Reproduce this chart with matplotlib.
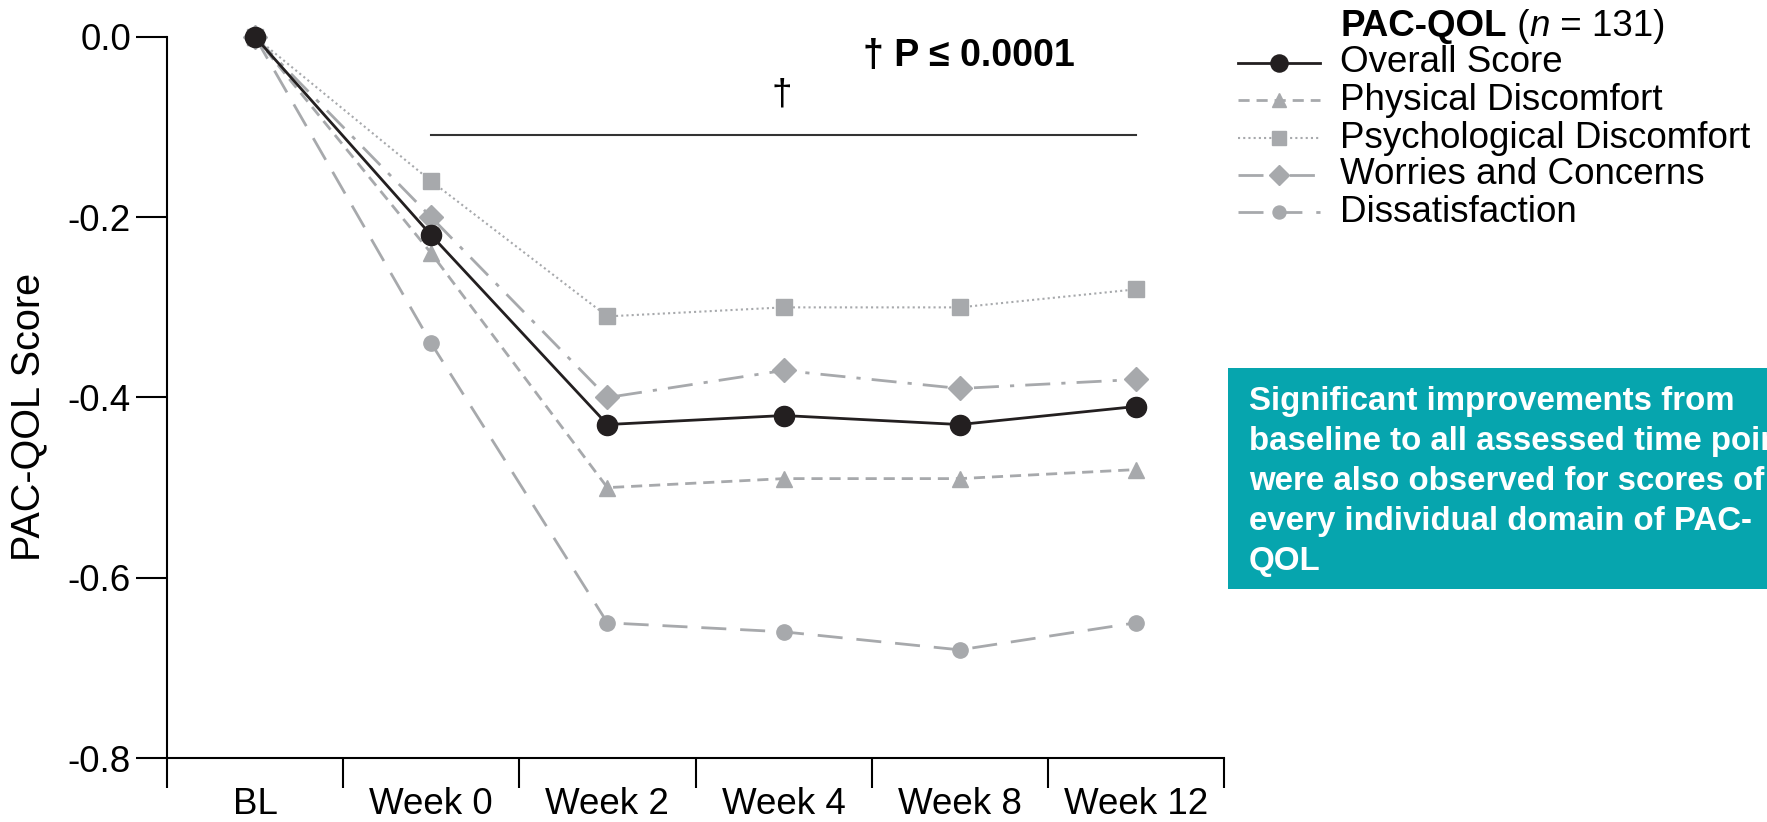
import matplotlib
matplotlib.use("Agg")
import matplotlib.pyplot as plt
from matplotlib.lines import Line2D
from matplotlib.patches import Rectangle

plt.rcParams['font.family'] = ['Liberation Sans', 'DejaVu Sans']

timepoints = ["BL", "Week 0", "Week 2", "Week 4", "Week 8", "Week 12"]
overall = [0.0, -0.22, -0.43, -0.42, -0.43, -0.41]
physical = [0.0, -0.24, -0.50, -0.49, -0.49, -0.48]
psychological = [0.0, -0.16, -0.31, -0.30, -0.30, -0.28]
worries = [0.0, -0.20, -0.40, -0.37, -0.39, -0.38]
dissatisfaction = [0.0, -0.34, -0.65, -0.66, -0.68, -0.65]
labels = ["Overall Score", "Physical Discomfort", "Psychological Discomfort",
          "Worries and Concerns", "Dissatisfaction"]
callout = ["Significant improvements from",
           "baseline to all assessed time points",
           "were also observed for scores of",
           "every individual domain of PAC-",
           "QOL"]

grey = "#a7a9ac"
black = "#231f20"
fs = 26.5
W, H = 1767, 822

fig = plt.figure(figsize=(W / 100, H / 100), dpi=100)
ax = fig.add_axes([167 / W, 1 - 758 / H, (1224 - 167) / W, (758 - 37) / H])

x = list(range(len(timepoints)))

styles = [
    dict(color=black, lw=2, ls="-", marker="o", ms=14.5),
    dict(color=grey, lw=2, dashes=(4, 2.5), marker="^", ms=12),
    dict(color=grey, lw=1.5, dashes=(1, 1.5), marker="s", ms=12),
    dict(color=grey, lw=2, dashes=(9, 4, 1.5, 4), marker="D", ms=12),
    dict(color=grey, lw=2, dashes=(9, 5), marker="o", ms=11),
]
series = [overall, physical, psychological, worries, dissatisfaction]

# grey domains first, overall on top
for vals, st in list(zip(series, styles))[::-1]:
    ax.plot(x, vals, clip_on=False, **st)

ax.set_xlim(-0.5, 5.5)
ax.set_ylim(-0.8, 0.0)
ax.spines["top"].set_visible(False)
ax.spines["right"].set_visible(False)
ax.spines["left"].set_linewidth(1.5)
ax.spines["bottom"].set_linewidth(1.5)

ax.set_yticks([0.0, -0.2, -0.4, -0.6, -0.8])
ax.set_yticklabels(["0.0", "-0.2", "-0.4", "-0.6", "-0.8"])
ax.tick_params(axis="y", direction="out", length=22, width=1.5, pad=4,
               labelsize=fs)
ax.set_xticks(x)
ax.set_xticklabels(timepoints)
ax.set_xticks([i - 0.5 for i in range(len(timepoints) + 1)], minor=True)
ax.tick_params(axis="x", which="major", length=0, pad=21, labelsize=fs)
ax.tick_params(axis="x", which="minor", direction="out", length=21.5, width=1.5)

ax.set_ylabel("PAC-QOL Score", fontsize=28.5)
ax.yaxis.set_label_coords(-0.113, 0.473)

# significance bar
ax.plot([1, 5], [-0.109, -0.109], color="#333333", lw=1.5, clip_on=False)
ax.text(2.99, -0.064, "\u2020", ha="center", va="center", fontsize=fs)
ax.text(3.45, -0.021, "\u2020 P \u2264 0.0001", ha="left", va="center",
        fontsize=27, fontweight="bold")

# legend drawn by hand (pixel positions of the reference)
def fx(px):
    return px / W

def fy(py):
    return 1 - py / H

t1 = fig.text(fx(1340), fy(27), "PAC-QOL", fontsize=fs, fontweight="bold",
              ha="left", va="baseline")
t1.set_va("center")
t2 = ax.annotate(" (", xy=(1, 0.5), xycoords=t1, fontsize=fs,
                 ha="left", va="center", annotation_clip=False)
t3 = ax.annotate("n", xy=(1, 0.5), xycoords=t2, fontsize=fs, style="italic",
                 ha="left", va="center", annotation_clip=False)
ax.annotate(" = 131)", xy=(1, 0.5), xycoords=t3, fontsize=fs,
            ha="left", va="center", annotation_clip=False)

row_y = [63, 100, 138, 175, 212]
for lab, st, ry in zip(labels, styles, row_y):
    line_st = {k: v for k, v in st.items() if k not in ("marker", "ms")}
    fig.add_artist(Line2D([fx(1238), fx(1320)], [fy(ry), fy(ry)],
                          transform=fig.transFigure, **line_st))
    fig.add_artist(Line2D([fx(1279)], [fy(ry)], transform=fig.transFigure,
                          marker=st["marker"], ms=st["ms"] * 0.85, ls="none",
                          color=st["color"]))
    fig.text(fx(1340), fy(ry), lab, fontsize=fs, ha="left", va="center")

# teal callout box (runs off the right edge, as in the reference)
fig.patches.append(Rectangle((fx(1228), fy(589)), 0.4, (589 - 368) / H,
                             transform=fig.transFigure,
                             facecolor="#06a5ae", edgecolor="none", zorder=0))
for i, line in enumerate(callout):
    fig.text(fx(1249), fy(410 + 40 * i), line, color="white", fontsize=23.8,
             fontweight="bold", ha="left", va="baseline")

fig.savefig("out.png", dpi=100)
